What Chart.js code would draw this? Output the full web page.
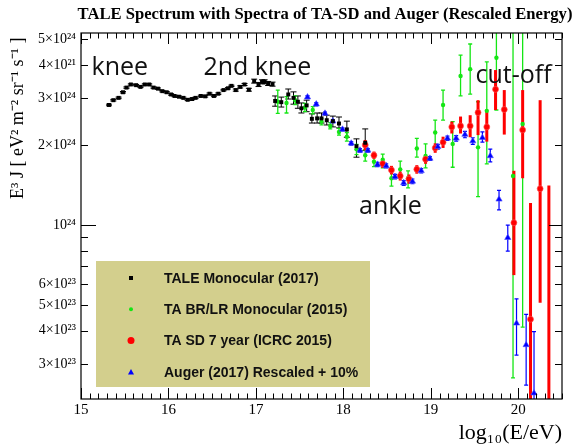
<!DOCTYPE html>
<html>
<head>
<meta charset="utf-8">
<script src="https://cdn.jsdelivr.net/npm/chart.js@4.4.1/dist/chart.umd.min.js"></script>
<style>
  html, body { margin: 0; padding: 0; background: #fff; }
</style>
</head>
<body>
<canvas id="spectrumChart" width="581" height="446"></canvas>
<script>
// all flux values in units of 10^24 eV^2 m^-2 sr^-1 s^-1
var taleE = [15.32,15.37,15.43,15.48,15.52,15.57,15.63,15.68,15.73,15.78,15.83,15.88,15.93,15.98,16.03,16.07,16.12,16.17,16.22,16.27,16.31,16.37,16.42,16.47,16.52,16.57,16.63,16.68,16.72,16.77,16.82,16.87,16.92,16.98,17.03,17.07,17.10,17.14,17.19,17.22,17.29,17.37,17.43,17.48,17.52,17.58,17.64,17.70,17.75,17.81,17.88,17.95,18.04,18.15,18.25];
var taleJ = [2.83,2.95,3.01,3.16,3.29,3.38,3.36,3.31,3.38,3.38,3.29,3.26,3.19,3.16,3.10,3.06,3.04,3.01,2.96,2.98,3.01,3.06,3.05,3.12,3.06,3.12,3.22,3.27,3.34,3.22,3.31,3.38,3.23,3.48,3.38,3.46,3.46,3.41,3.39,2.93,2.90,3.10,3.01,2.91,2.75,2.82,2.51,2.52,2.52,2.48,2.46,2.41,2.29,1.98,2.04];
var taleLo = [2.81,2.93,2.99,3.14,3.27,3.36,3.34,3.29,3.36,3.36,3.27,3.24,3.17,3.14,3.08,3.04,3.02,2.99,2.94,2.96,2.99,3.04,3.03,3.10,3.04,3.10,3.20,3.25,3.32,3.19,3.28,3.35,3.19,3.42,3.32,3.40,3.40,3.35,3.33,2.80,2.78,2.98,2.85,2.75,2.64,2.67,2.42,2.42,2.42,2.38,2.34,2.32,2.14,1.80,1.91];
var taleHi = [2.85,2.97,3.03,3.18,3.31,3.40,3.38,3.33,3.40,3.40,3.31,3.28,3.21,3.18,3.12,3.08,3.06,3.03,2.98,3.00,3.03,3.08,3.07,3.14,3.08,3.14,3.24,3.29,3.36,3.25,3.34,3.41,3.27,3.54,3.44,3.52,3.52,3.47,3.45,3.06,3.03,3.25,3.17,3.06,2.88,2.95,2.62,2.64,2.64,2.59,2.57,2.55,2.46,2.11,2.30];

var brE = [17.25,17.35,17.45,17.56,17.65,17.75,17.85,17.95,18.04,18.15,18.25,18.35,18.45,18.55,18.65,18.74,18.84,18.94,19.05,19.14,19.25,19.34,19.45,19.54,19.64,19.75,19.94,20.05];
var brJ = [2.91,2.88,2.95,2.77,2.71,2.45,2.36,2.24,2.15,1.93,1.83,1.73,1.76,1.50,1.62,1.50,1.94,1.82,2.23,2.83,2.02,3.64,3.86,1.96,2.69,4.26,1.53,2.40];
var brLo = [2.63,2.64,2.84,2.67,2.62,2.38,2.30,2.18,2.07,1.84,1.74,1.66,1.64,1.40,1.50,1.38,1.80,1.64,1.98,2.48,1.65,3.06,3.11,1.28,1.70,2.71,0.266,0.413];
var brHi = [3.22,3.04,3.06,2.87,2.79,2.52,2.43,2.31,2.23,2.01,1.92,1.80,1.85,1.61,1.74,1.60,2.12,2.02,2.48,3.22,2.45,4.36,4.80,2.91,4.11,10,10,10];

var sdE = [18.25,18.35,18.45,18.55,18.65,18.75,18.84,18.94,19.05,19.14,19.24,19.34,19.45,19.54,19.64,19.74,19.84,19.95,20.05,20.14,20.25,20.35];
var sdJ = [2.00,1.83,1.70,1.61,1.53,1.49,1.62,1.77,1.95,2.05,2.34,2.36,2.36,2.65,2.34,3.24,2.72,1.02,2.28,0.442,1.37,0.15];
var sdLo = [1.91,1.77,1.64,1.55,1.47,1.43,1.56,1.70,1.87,1.95,2.21,2.21,2.14,2.18,2.06,2.71,2.19,0.648,1.50,0.1,0.51,0.1];
var sdHi = [2.09,1.89,1.76,1.67,1.59,1.55,1.68,1.84,2.03,2.15,2.45,2.56,2.59,2.95,2.67,3.83,3.22,1.60,3.22,1.21,2.95,1.41];

var augerE = [17.59,17.69,17.79,17.88,17.99,18.09,18.19,18.28,18.39,18.49,18.59,18.69,18.79,18.89,18.99,19.08,19.19,19.29,19.39,19.48,19.59,19.68,19.78,19.88,19.98,20.09,20.18];
var augerJ = [3.03,2.85,2.63,2.46,2.29,2.03,1.91,1.91,1.69,1.67,1.52,1.44,1.46,1.60,1.78,1.97,2.12,2.12,2.19,2.07,2.13,1.82,1.25,0.896,0.427,0.354,0.233];
var augerLo = [2.99,2.81,2.60,2.43,2.26,2.00,1.88,1.88,1.66,1.64,1.49,1.41,1.43,1.57,1.75,1.93,2.08,2.07,2.13,2.01,2.05,1.73,1.14,0.798,0.324,0.25,0.1];
var augerHi = [3.07,2.89,2.66,2.49,2.32,2.06,1.94,1.94,1.72,1.70,1.55,1.47,1.49,1.63,1.81,2.01,2.16,2.17,2.25,2.13,2.24,1.93,1.35,1.00,0.527,0.461,0.397];

var yTickVals = [0.3,0.4,0.5,0.6,0.7,0.8,0.9,1,2,3,4,5];
var yTickLabels = ['3×10²³','4×10²³','5×10²³','6×10²³','','','','10²⁴','2×10²⁴','3×10²⁴','4×10²¹','5×10²⁴'];

// annotation texts, anchored in data units
var notes = [
    { text: 'knee', x: 15.12, y: 3.67 },
    { text: '2nd knee', x: 16.40, y: 3.67 },
    { text: 'ankle', x: 18.18, y: 1.10 },
    { text: 'cut-off', x: 19.51, y: 3.42 }
];

function pts(xs, ys) {
    return xs.map(function (x, i) { return { x: x, y: ys[i] }; });
}

var errorBars = {
    id: 'errorBars',
    beforeDatasetsDraw: function (chart) {
        var ctx = chart.ctx, yS = chart.scales.y, a = chart.chartArea;
        ctx.save();
        ctx.beginPath();
        ctx.rect(a.left, a.top, a.right - a.left, a.bottom - a.top);
        ctx.clip();
        chart.data.datasets.forEach(function (ds, i) {
            var meta = chart.getDatasetMeta(i);
            ctx.strokeStyle = ds.barColor;
            ctx.lineWidth = ds.barWidth;
            meta.data.forEach(function (p, j) {
                var top = yS.getPixelForValue(ds.errHi[j]);
                var bot = yS.getPixelForValue(ds.errLo[j]);
                ctx.beginPath();
                ctx.moveTo(p.x, top);
                ctx.lineTo(p.x, bot);
                if (ds.cap) {
                    ctx.moveTo(p.x - ds.cap, top); ctx.lineTo(p.x + ds.cap, top);
                    ctx.moveTo(p.x - ds.cap, bot); ctx.lineTo(p.x + ds.cap, bot);
                }
                ctx.stroke();
            });
        });
        ctx.restore();
    }
};

var frameAndText = {
    id: 'frameAndText',
    afterDraw: function (chart) {
        var ctx = chart.ctx, a = chart.chartArea, xS = chart.scales.x, yS = chart.scales.y;
        ctx.save();
        // frame
        ctx.strokeStyle = '#000';
        ctx.lineWidth = 1.2;
        ctx.strokeRect(a.left, a.top, a.right - a.left, a.bottom - a.top);
        ctx.lineWidth = 1;
        ctx.beginPath();
        // x ticks, bottom and top, pointing inward
        for (var k = 0; k <= 55; k++) {
            var v = 15 + k / 10;
            var px = Math.round(xS.getPixelForValue(v)) + 0.5;
            var len = (k % 10 === 0) ? 11 : 5.5;
            ctx.moveTo(px, a.bottom); ctx.lineTo(px, a.bottom - len);
            ctx.moveTo(px, a.top); ctx.lineTo(px, a.top + len);
        }
        // y ticks, left and right
        yTickVals.forEach(function (v) {
            var py = Math.round(yS.getPixelForValue(v)) + 0.5;
            var decade = (v === 1);
            ctx.moveTo(a.left, py); ctx.lineTo(a.left + (decade ? 15 : 7), py);
            ctx.moveTo(a.right, py); ctx.lineTo(a.right - (decade ? 13 : 7), py);
        });
        ctx.stroke();

        // title
        ctx.fillStyle = '#000';
        ctx.font = 'bold 16.6px "Liberation Serif"';
        ctx.textAlign = 'center';
        ctx.textBaseline = 'middle';
        ctx.fillText('TALE Spectrum with Spectra of TA-SD and Auger (Rescaled Energy)', 325, 15);

        // annotations
        ctx.font = '25px "Open Sans"';
        ctx.textAlign = 'left';
        ctx.textBaseline = 'alphabetic';
        ctx.fillStyle = '#111';
        notes.forEach(function (n) {
            ctx.fillText(n.text, xS.getPixelForValue(n.x), yS.getPixelForValue(n.y));
        });

        // legend box
        var lx = 96, ly = 261, lw = 274, lh = 126;
        ctx.fillStyle = '#d3cf8d';
        ctx.fillRect(lx, ly, lw, lh);
        ctx.font = 'bold 14px "Liberation Sans"';
        ctx.textBaseline = 'middle';
        chart.data.datasets.forEach(function (ds, i) {
            var cy = ly + 17 + i * 31.3;
            var cx = lx + 35;
            ctx.fillStyle = ds.backgroundColor;
            ctx.beginPath();
            if (ds.pointStyle === 'rect') {
                ctx.rect(cx - 2, cy - 2, 4, 4);
            } else if (ds.pointStyle === 'triangle') {
                ctx.moveTo(cx, cy - 3); ctx.lineTo(cx + 3, cy + 2.5); ctx.lineTo(cx - 3, cy + 2.5); ctx.closePath();
            } else {
                ctx.arc(cx, cy, i === 2 ? 3.5 : 2, 0, Math.PI * 2);
            }
            ctx.fill();
            ctx.fillStyle = '#111';
            ctx.fillText(ds.label, lx + 68, cy + 1);
        });
        ctx.restore();
    }
};

var ctx = document.getElementById('spectrumChart').getContext('2d');
var chart = new Chart(ctx, {
    type: 'scatter',
    data: {
        datasets: [{
            label: 'TALE Monocular (2017)',
            data: pts(taleE, taleJ),
            errLo: taleLo, errHi: taleHi,
            barColor: '#000', barWidth: 1, cap: 3,
            pointStyle: 'rect',
            pointRadius: 2.8,
            backgroundColor: '#000',
            borderColor: '#000',
            borderWidth: 0,
            order: 1
        }, {
            label: 'TA BR/LR Monocular (2015)',
            data: pts(brE, brJ),
            errLo: brLo, errHi: brHi,
            barColor: '#14e614', barWidth: 1.3, cap: 2,
            pointStyle: 'circle',
            pointRadius: 2.2,
            backgroundColor: '#14e614',
            borderColor: '#14e614',
            borderWidth: 0,
            order: 4
        }, {
            label: 'TA SD 7 year (ICRC 2015)',
            data: pts(sdE, sdJ),
            errLo: sdLo, errHi: sdHi,
            barColor: '#ff0000', barWidth: 3, cap: 0,
            pointStyle: 'circle',
            pointRadius: 3,
            backgroundColor: '#ff0000',
            borderColor: 'rgba(255,90,90,0.6)',
            borderWidth: 1,
            order: 3
        }, {
            label: 'Auger (2017) Rescaled + 10%',
            data: pts(augerE, augerJ),
            errLo: augerLo, errHi: augerHi,
            barColor: '#0000ff', barWidth: 1.2, cap: 2,
            pointStyle: 'triangle',
            pointRadius: 3.6,
            backgroundColor: '#0000ff',
            borderColor: 'rgba(80,80,255,0.6)',
            borderWidth: 1,
            order: 2
        }]
    },
    options: {
        responsive: false,
        animation: false,
        layout: { padding: { top: 33, right: 19, left: 0, bottom: 0 } },
        plugins: {
            legend: { display: false },
            tooltip: { enabled: false }
        },
        scales: {
            x: {
                type: 'linear',
                min: 15,
                max: 20.5,
                grid: { display: false, drawTicks: false },
                border: { display: false },
                ticks: {
                    stepSize: 1,
                    includeBounds: false,
                    padding: 2,
                    color: '#000',
                    font: { family: 'Liberation Serif', size: 15 },
                    callback: function (v) { return Number.isInteger(v) ? String(v) : ''; }
                },
                title: {
                    display: true,
                    text: 'log₁₀(E/eV)',
                    align: 'end',
                    color: '#000',
                    font: { family: 'Liberation Serif', size: 22 },
                    padding: { top: 0, bottom: 0 }
                },
                afterFit: function (s) { s.height = 47; }
            },
            y: {
                type: 'logarithmic',
                min: 0.2215,
                max: 5.28,
                grid: { display: false, drawTicks: false },
                border: { display: false },
                afterBuildTicks: function (s) {
                    s.ticks = yTickVals.map(function (v) { return { value: v }; });
                },
                ticks: {
                    autoSkip: false,
                    padding: 5,
                    color: '#000',
                    font: { family: 'Liberation Serif', size: 14 },
                    callback: function (v) {
                        var i = yTickVals.indexOf(v);
                        return i >= 0 ? yTickLabels[i] : '';
                    }
                },
                title: {
                    display: true,
                    text: 'E³ J [ eV² m⁻² sr⁻¹ s⁻¹ ] ',
                    align: 'end',
                    color: '#000',
                    font: { family: 'Liberation Serif', size: 18 },
                    padding: { top: 7, bottom: 0 }
                },
                afterFit: function (s) { s.width = 81; }
            }
        }
    },
    plugins: [errorBars, frameAndText]
});
</script>
</body>
</html>
